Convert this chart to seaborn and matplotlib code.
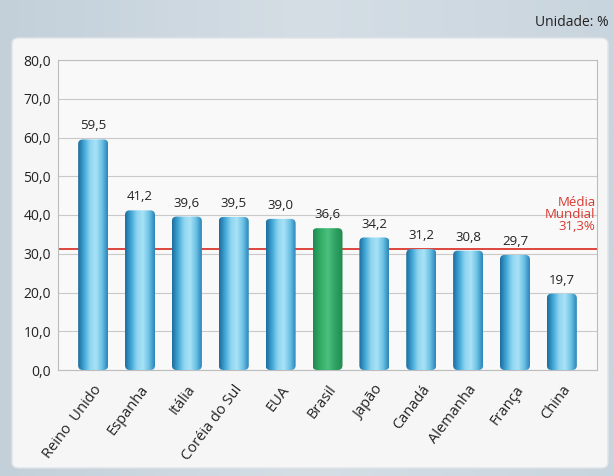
import numpy as np
import pandas as pd
import matplotlib
matplotlib.use("Agg")
import matplotlib.pyplot as plt
from matplotlib.patches import FancyBboxPatch
import seaborn as sns

# dados do gráfico
paises = ['Reino  Unido', 'Espanha', 'Itália', 'Coréia do Sul', 'EUA', 'Brasil',
          'Japão', 'Canadá', 'Alemanha', 'França', 'China']
valores = [59.5, 41.2, 39.6, 39.5, 39.0, 36.6, 34.2, 31.2, 30.8, 29.7, 19.7]
media_mundial = 31.3
yticks = [0, 10, 20, 30, 40, 50, 60, 70, 80]

sns.set_theme(style='white')
plt.rcParams['font.family'] = ['Open Sans', 'DejaVu Sans']

df = pd.DataFrame({'pais': paises, 'valor': valores})

fig = plt.figure(figsize=(6.13, 4.76), dpi=100)
W, H = 613, 476

# fundo com gradiente
bg = fig.add_axes([0, 0, 1, 1], zorder=-10)
grad = np.linspace(0, 1, 256).reshape(1, -1)
bg.imshow(np.vstack([grad] * 4), aspect='auto', extent=[0, 1, 0, 1],
          cmap=matplotlib.colors.LinearSegmentedColormap.from_list('bg', ['#c3d0da', '#d5dee5', '#c9d5de']))
bg.set_xlim(0, 1)
bg.set_ylim(0, 1)
bg.axis('off')
painel = FancyBboxPatch((12 / W, 8 / H), 596 / W, 430 / H,
                        boxstyle='round,pad=0,rounding_size=0.012',
                        transform=bg.transAxes, facecolor='#f6f6f6', edgecolor='#e0e4e8', lw=1)
bg.add_patch(painel)
fig.text(609 / W, 1 - 22 / H, 'Unidade: %', ha='right', va='center', fontsize=10, color='#222222')

ax = fig.add_axes([58 / W, 1 - 370 / H, 539 / W, 310 / H])
ax.set_facecolor('#f9f9f9')

cores = ['#3ea9d6' if p != 'Brasil' else '#2fa866' for p in paises]
sns.barplot(data=df, x='pais', y='valor', hue='pais', palette=cores, legend=False,
            width=0.64, ax=ax, zorder=3)

# gradiente cilíndrico em cada barra
cmap_azul = matplotlib.colors.LinearSegmentedColormap.from_list(
    'azul', ['#1d6a9a', '#3fa6d6', '#8ed5f0', '#a9e2f6', '#6cc2e6', '#2a84b6'])
cmap_verde = matplotlib.colors.LinearSegmentedColormap.from_list(
    'verde', ['#1d8a4f', '#33ad69', '#4cc07e', '#2fa263', '#1f8a50'])
for patch, pais in zip(ax.patches, paises):
    x0, y0 = patch.get_x(), patch.get_y()
    w, h = patch.get_width(), patch.get_height()
    patch.set_facecolor('none')
    patch.set_edgecolor('none')
    cm = cmap_verde if pais == 'Brasil' else cmap_azul
    im = ax.imshow(grad, aspect='auto', cmap=cm, extent=[x0, x0 + w, y0, y0 + h],
                   zorder=3, interpolation='bicubic')
    clip = FancyBboxPatch((x0, y0), w, h, boxstyle='round,pad=0,rounding_size=0.1',
                          mutation_aspect=12, transform=ax.transData,
                          facecolor='none', edgecolor='none')
    ax.add_patch(clip)
    im.set_clip_path(clip)
    ax.text(x0 + w / 2, y0 + h + 1.8, f'{h:.1f}'.replace('.', ','), ha='center', va='bottom',
            fontsize=9.5, color='#222222')

ax.set_xlim(-0.75, 10.75)
ax.set_ylim(0, 80)
ax.set_yticks(yticks)
ax.set_yticklabels([f'{v:.1f}'.replace('.', ',') for v in yticks], fontsize=10, color='#222222')
ax.yaxis.grid(True, color='#c9c9c9', lw=0.8, zorder=0)
ax.set_axisbelow(True)

# linha da média mundial
ax.axhline(media_mundial, color='#d9382f', lw=1.3, zorder=2)
ax.text(10.72, media_mundial + 4.0, 'Média\nMundial\n31,3%', ha='right', va='bottom',
        fontsize=9.5, color='#d9382f', linespacing=0.9)

ax.set_xlabel('')
ax.set_ylabel('')
ax.set_xticks(range(len(paises)))
ax.set_xticklabels(paises, rotation=53, ha='right', rotation_mode='anchor',
                   fontsize=10.5, color='#222222')
ax.tick_params(axis='x', length=0, pad=9)
ax.tick_params(axis='y', length=0, pad=5)
for s in ax.spines.values():
    s.set_color('#bdbdbd')
    s.set_linewidth(0.8)

fig.savefig('out.png', dpi=100)
